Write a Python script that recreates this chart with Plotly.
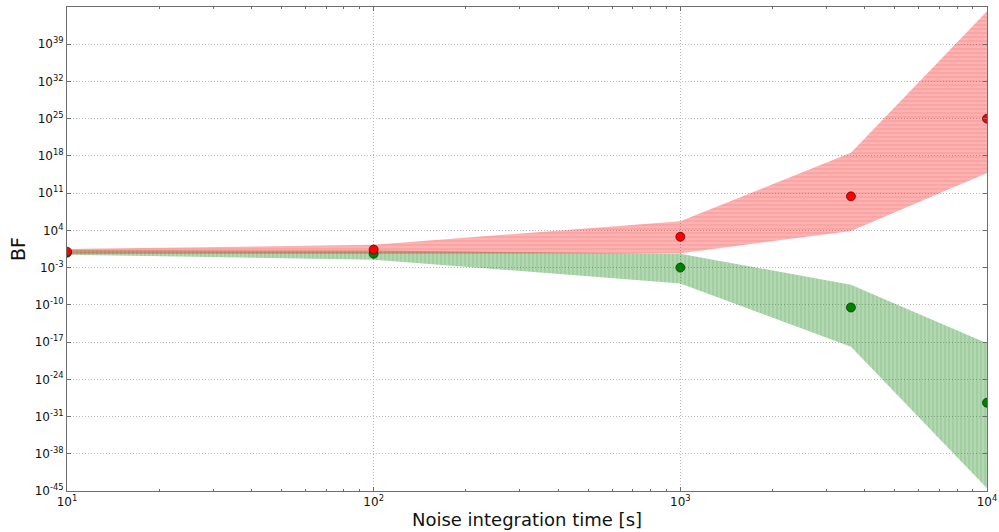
import numpy as np
import plotly.graph_objects as go

# Noise integration times [s]
t_int = [10, 100, 1000, 3600, 10000]

# log10 of Bayes factor: median points and band limits
red_med = [0.0, 0.4, 2.8, 10.4, 25.0]
red_hi = [0.5, 1.3, 5.7, 18.6, 45.2]
red_lo = [-0.4, -0.4, -0.3, 3.9, 14.8]

green_med = [-0.2, -0.4, -3.0, -10.5, -28.4]
green_hi = [0.3, 0.2, -0.4, -6.2, -17.2]
green_lo = [-0.6, -1.5, -6.0, -17.9, -44.5]

ytick_exp = [-45, -38, -31, -24, -17, -10, -3, 4, 11, 18, 25, 32, 39]
xtick_exp = [1, 2, 3, 4]

pw = lambda v: [10.0 ** e for e in v]

fig = go.Figure()


def band(lo, hi, fill, fg, shape):
    fig.add_trace(go.Scatter(
        x=t_int + t_int[::-1],
        y=pw(hi) + pw(lo)[::-1],
        mode="lines", line=dict(width=0), fill="toself",
        fillcolor=fill,
        fillpattern=dict(shape=shape, bgcolor=fill, fgcolor=fg, size=4, solidity=0.3),
        hoverinfo="skip", showlegend=False,
    ))


band(green_lo, green_hi, "rgba(0,128,0,0.3)", "rgba(0,100,0,0.3)", "|")
band(red_lo, red_hi, "rgba(255,0,0,0.3)", "rgba(210,0,0,0.25)", "-")

fig.add_trace(go.Scatter(x=t_int, y=pw(green_med), mode="markers",
                         marker=dict(color="#008000", size=9, line=dict(color="#003000", width=0.7)),
                         showlegend=False))
fig.add_trace(go.Scatter(x=t_int, y=pw(red_med), mode="markers",
                         marker=dict(color="#ff0000", size=9, line=dict(color="#500000", width=0.7)),
                         showlegend=False))

minor_x = [m * 10 ** d for d in range(1, 4) for m in range(2, 10)]

axis_common = dict(
    showline=True, linecolor="#6e6e6e", linewidth=1, mirror="allticks",
    ticks="inside", ticklen=4, tickcolor="#6e6e6e",
    showgrid=True, gridcolor="#b8b8b8", griddash="1px,2px", gridwidth=1,
    zeroline=False, automargin=False,
    tickfont=dict(family="DejaVu Sans", size=12, color="#111"),
)

fig.update_xaxes(
    type="log", range=[1, 4],
    tickmode="array", tickvals=pw(xtick_exp),
    ticktext=[f"10<sup>{e}</sup>" for e in xtick_exp],
    minor=dict(tickmode="array", tickvals=minor_x, ticks="inside", ticklen=2,
               tickcolor="#6e6e6e", showgrid=False),
    title=dict(text="Noise integration time [s]", standoff=4,
               font=dict(family="DejaVu Sans", size=18, color="#111")),
    **axis_common,
)
fig.update_yaxes(
    type="log", range=[-45, 46],
    tickmode="array", tickvals=pw(ytick_exp),
    ticktext=[f"10<sup>{e}</sup>" for e in ytick_exp],
    title=dict(text="BF", standoff=3,
               font=dict(family="DejaVu Sans", size=19, color="#111")),
    **axis_common,
)

fig.update_layout(
    width=999, height=532,
    margin=dict(l=67, r=12, t=7, b=41),
    plot_bgcolor="white", paper_bgcolor="white",
)

fig.write_html("out.html")
